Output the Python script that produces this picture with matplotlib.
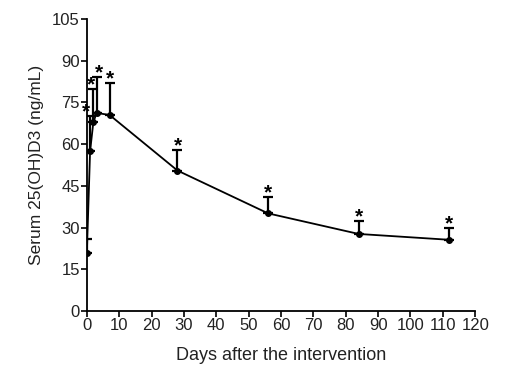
import numpy as np
import matplotlib
matplotlib.use('Agg')
import matplotlib.pyplot as plt

plt.rcParams['font.family'] = ['Liberation Sans', 'DejaVu Sans']

# data
days = [0, 1, 2, 3, 7, 28, 56, 84, 112]
serum = [20.9, 57.5, 67.8, 71.2, 70.5, 50.5, 35.1, 27.7, 25.6]
err_up = [5.0, 12.5, 12.0, 13.0, 11.5, 7.5, 6.0, 4.8, 4.4]

fig = plt.figure(figsize=(5.05, 3.72), dpi=100)
ax = fig.add_axes([0.172, 0.164, 0.769, 0.785])

ax.errorbar(days, serum, yerr=[np.zeros(len(err_up)), err_up],
            color='black', lw=1.3, marker='o', ms=4, capsize=3.5,
            elinewidth=1.6, capthick=1.6)

# significance stars above each bar, the crowded early ones nudged apart
nudge = {1: -3, 2: -2, 3: 2}
for d, s, e in zip(days[1:], serum[1:], err_up[1:]):
    ax.annotate('*', (d, s + e), xytext=(nudge.get(d, 0), -4),
                textcoords='offset points', ha='center', va='bottom',
                fontsize=15, fontweight='bold')

ax.set_xlim(0, 120)
ax.set_ylim(0, 105)
ax.set_xticks(np.arange(0, 121, 10))
ax.set_yticks(np.arange(0, 106, 15))
ax.spines['top'].set_visible(False)
ax.spines['right'].set_visible(False)
ax.spines['left'].set_linewidth(1.3)
ax.spines['bottom'].set_linewidth(1.3)
ax.tick_params(direction='out', length=4, width=1.2, labelsize=12, pad=1,
               labelcolor='#222222')

ax.set_xlabel('Days after the intervention', fontsize=13, labelpad=10,
              color='#222222')
ax.set_ylabel('Serum 25(OH)D3 (ng/mL)', fontsize=12.5, labelpad=6,
              color='#222222')

fig.savefig('out.png', dpi=100)
